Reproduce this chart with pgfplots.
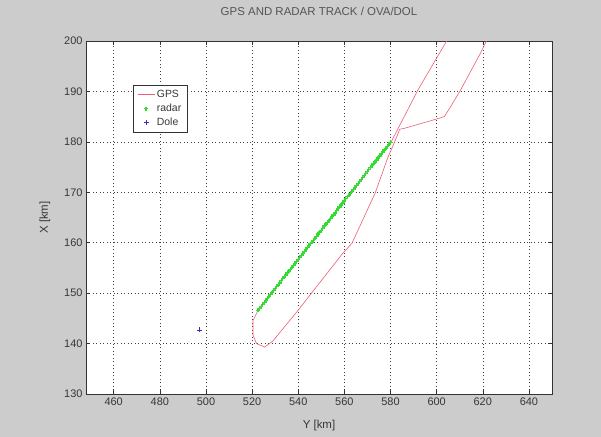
\documentclass[border=0pt]{standalone}
\usepackage{fontspec}
\setmainfont{Liberation Sans}
\usepackage{pgfplots}
\pgfplotsset{compat=1.18}
\definecolor{figbg}{rgb}{0.8,0.8,0.8}
\definecolor{gpsred}{RGB}{238,95,115}
\definecolor{radgreen}{RGB}{50,220,50}
\definecolor{doleblue}{RGB}{70,40,190}
\definecolor{txtgray}{RGB}{55,55,55}
\begin{document}
\begin{tikzpicture}
\fill[figbg] (-86bp,-43bp) rectangle (515bp,394bp);
\begin{axis}[
  at={(0,0)}, anchor=south west,
  scale only axis, width=466bp, height=353bp,
  xmin=448, xmax=650, ymin=130, ymax=200,
  xtick={460,480,...,640}, ytick={130,140,...,200},
  axis background/.style={fill=white},
  grid=major,
  major grid style={black!75, dash pattern=on 1bp off 2.5bp, line width=0.5bp},
  tick align=inside, major tick length=4bp,
  tick style={black!80, line width=0.5bp},
  axis line style={black!80, line width=0.6bp},
  /pgf/number format/assume math mode=true,
  tick label style={font=\fontsize{11}{13}\selectfont, text=txtgray},
  title={GPS AND RADAR TRACK / OVA/DOL},
  title style={at={(axis description cs:0.5,1.068)}, anchor=center, font=\fontsize{11.5}{13}\selectfont, text=txtgray!85},
  xlabel={Y [km]}, ylabel={X [km]},
  xlabel style={at={(axis description cs:0.5,-0.088)}, anchor=center, font=\fontsize{11.5}{13}\selectfont, text=txtgray},
  ylabel style={at={(axis description cs:-0.088,0.5)}, anchor=center, font=\fontsize{11.5}{13}\selectfont, text=txtgray},
  legend style={at={(0.101,0.875)}, anchor=north west, draw=black!80, fill=white,
    font=\fontsize{10.5}{12}\selectfont, text=txtgray, row sep=1bp, inner xsep=4bp, inner ysep=3bp},
  legend cell align=left,
]
\addplot[gpsred, line width=0.6bp, no marks] coordinates {
(621.9,200.3) (619.0,197.6) (610.4,190.3) (606.1,187.0) (603.3,185.0) (599.0,184.4)
(586.1,182.7) (584.0,182.5) (581.9,180.1) (579.0,177.1) (573.3,169.8) (563.3,159.9)
(559.3,157.9) (549.0,151.9) (539.4,146.3) (529.0,140.5) (525.4,139.3) (521.9,140.0)
(520.4,141.7) (520.4,144.6) (522.6,146.6) (551.5,163.3) (580.4,180.1) (591.9,190.3)
(604.7,200.3)
};
\addlegendentry{GPS}
\addplot[radgreen, only marks, mark=+, mark size=2bp, line width=1.3bp] coordinates {
(522.6,146.6) (523.3,147.0) (524.0,147.4) (524.6,147.8) (525.3,148.2) (526.0,148.5)
(526.6,148.9) (527.3,149.4) (528.0,149.8) (528.6,150.1) (529.3,150.5) (530.0,150.9)
(530.6,151.3) (531.3,151.6) (532.0,152.0) (532.6,152.5) (533.3,152.9) (534.0,153.2)
(534.6,153.6) (535.3,154.0) (536.0,154.4) (536.6,154.7) (537.3,155.1) (538.0,155.5)
(538.6,155.9) (539.3,156.3) (540.0,156.7) (540.6,157.1) (541.3,157.5) (542.0,157.8)
(542.6,158.2) (543.3,158.6) (544.0,159.0) (544.6,159.4) (545.3,159.8) (546.0,160.1)
(546.6,160.5) (547.3,160.9) (548.0,161.3) (548.6,161.7) (549.3,162.1) (550.0,162.4)
(550.6,162.8) (551.3,163.3) (552.0,163.7) (552.6,164.0) (553.3,164.4) (554.0,164.8)
(554.6,165.2) (555.3,165.5) (556.0,165.9) (556.6,166.4) (557.3,166.8) (558.0,167.1)
(558.6,167.5) (559.3,167.9) (560.0,168.3) (560.6,168.7) (561.3,169.1) (562.0,169.4)
(562.6,169.8) (563.3,170.2) (564.0,170.6) (564.6,171.0) (565.3,171.4) (566.0,171.7)
(566.6,172.1) (567.3,172.6) (568.0,173.0) (568.6,173.3) (569.3,173.7) (570.0,174.1)
(570.6,174.5) (571.3,174.9) (572.0,175.3) (572.6,175.6) (573.3,176.0) (574.0,176.4)
(574.6,176.8) (575.3,177.2) (576.0,177.6) (576.6,178.0) (577.3,178.4) (578.0,178.7)
(578.6,179.1) (579.3,179.5) (580.0,179.9)
};
\addlegendentry{radar}
\addplot[doleblue, only marks, mark=+, mark size=2.5bp, line width=0.7bp] coordinates {(497.1,142.7)};
\addlegendentry{Dole}
\end{axis}
\end{tikzpicture}
\end{document}
